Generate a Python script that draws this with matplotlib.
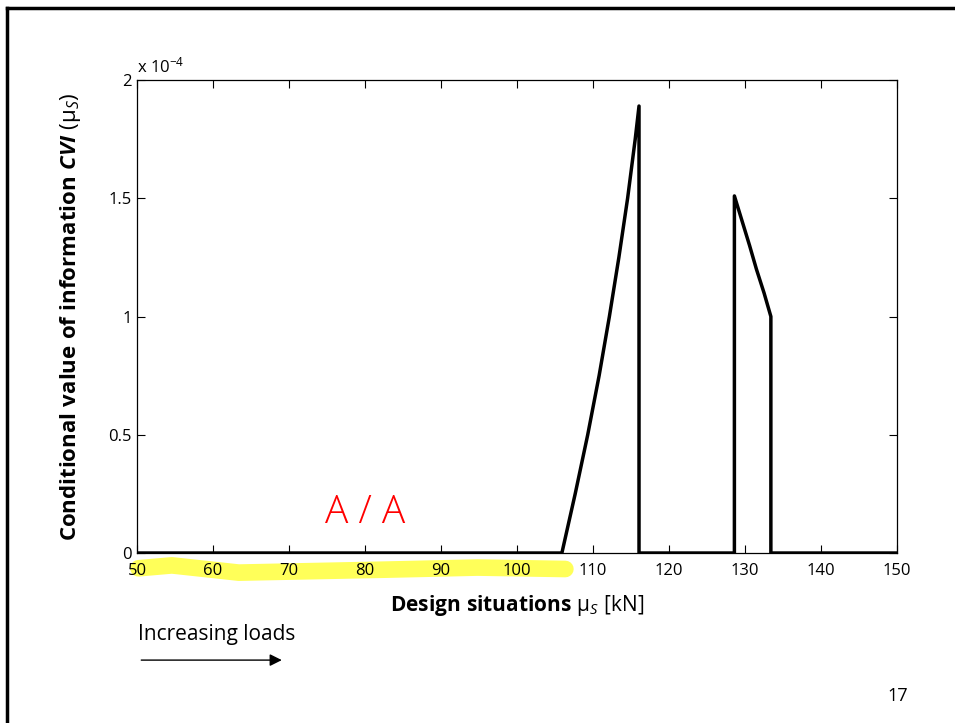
import matplotlib
matplotlib.use("Agg")
import matplotlib.pyplot as plt
from matplotlib.lines import Line2D

plt.rcParams['font.family'] = ['Open Sans', 'DejaVu Sans']
plt.rcParams['mathtext.fontset'] = 'custom'
plt.rcParams['mathtext.rm'] = 'Open Sans'
plt.rcParams['mathtext.it'] = 'Open Sans:italic'
plt.rcParams['mathtext.bf'] = 'Open Sans:bold'
plt.rcParams['mathtext.bfit'] = 'Open Sans:italic:bold'

# design situation mu_S [kN] and conditional value of information (x 1e-4)
mu_s = [50, 105.9, 107.65, 109.3, 110.8, 112.15, 113.4, 114.55, 115.55, 116.05, 116.05,
        128.6, 128.6, 129.6, 130.6, 131.5, 132.5, 133.4, 133.4, 150]
cvi = [0, 0, 0.25, 0.50, 0.75, 1.00, 1.25, 1.50, 1.75, 1.89, 0,
       0, 1.51, 1.405, 1.30, 1.20, 1.10, 1.00, 0, 0]
x_ticks = [50, 60, 70, 80, 90, 100, 110, 120, 130, 140, 150]
y_ticks = [0, 0.5, 1, 1.5, 2]
y_tick_labels = ['0', '0.5', '1', '1.5', '2']

fig = plt.figure(figsize=(9.55, 7.23), dpi=100)

# slide frame (left and top edges)
fig.add_artist(Line2D([0.0073, 0.0073], [0, 0.9895], color='black', lw=2.5))
fig.add_artist(Line2D([0.0073, 1.0], [0.9895, 0.9895], color='black', lw=2.5))

ax = fig.add_axes([0.1435, 0.2351, 0.7958, 0.6542])
ax.plot(mu_s, [v * 1e-4 for v in cvi], color='black', lw=2.5, solid_joinstyle='round')
ax.set_xlim(50, 150)
ax.set_ylim(0, 2e-4)
ax.set_xticks(x_ticks)
ax.set_yticks([v * 1e-4 for v in y_ticks])
ax.set_yticklabels(y_tick_labels)
ax.tick_params(direction='in', top=True, right=True, length=6, width=0.8,
               labelsize=12, pad=4)
ax.tick_params(axis='x', pad=7)
for s in ax.spines.values():
    s.set_linewidth(0.9)
ax.text(0, 1.008, r'x 10$^{-4}$', transform=ax.transAxes, fontsize=12,
        ha='left', va='bottom')

ax.set_xlabel(r'$\mathbf{Design\ situations}\ \mathrm{\mu}_S\ \mathrm{[kN]}$',
              fontsize=15, labelpad=10)
ax.set_ylabel(r'$\mathbf{Conditional\ value\ of\ information}\ \mathbfit{CVI}\ (\mathrm{\mu}_S)$',
              fontsize=16, labelpad=18)

# hand annotations on the slide
ax.text(0.30, 0.085, 'A / A', transform=ax.transAxes, color='red', fontsize=28,
        ha='center', va='center', fontweight='light')
fig.add_artist(Line2D([0.145, 0.18, 0.25, 0.40, 0.50, 0.592],
                      [0.214, 0.218, 0.208, 0.212, 0.215, 0.213],
                      color='yellow', lw=12, alpha=0.65, solid_capstyle='round', zorder=0))

fig.text(0.145, 0.122, 'Increasing loads', fontsize=15, ha='left', va='center')
fig.add_artist(plt.Annotation('', xy=(0.298, 0.087), xytext=(0.145, 0.087),
                              xycoords='figure fraction',
                              arrowprops=dict(arrowstyle='-|>', color='black', lw=1,
                                              mutation_scale=18)))
fig.text(0.94, 0.038, '17', fontsize=13, ha='center', va='center')

fig.savefig('out.png', dpi=100)
